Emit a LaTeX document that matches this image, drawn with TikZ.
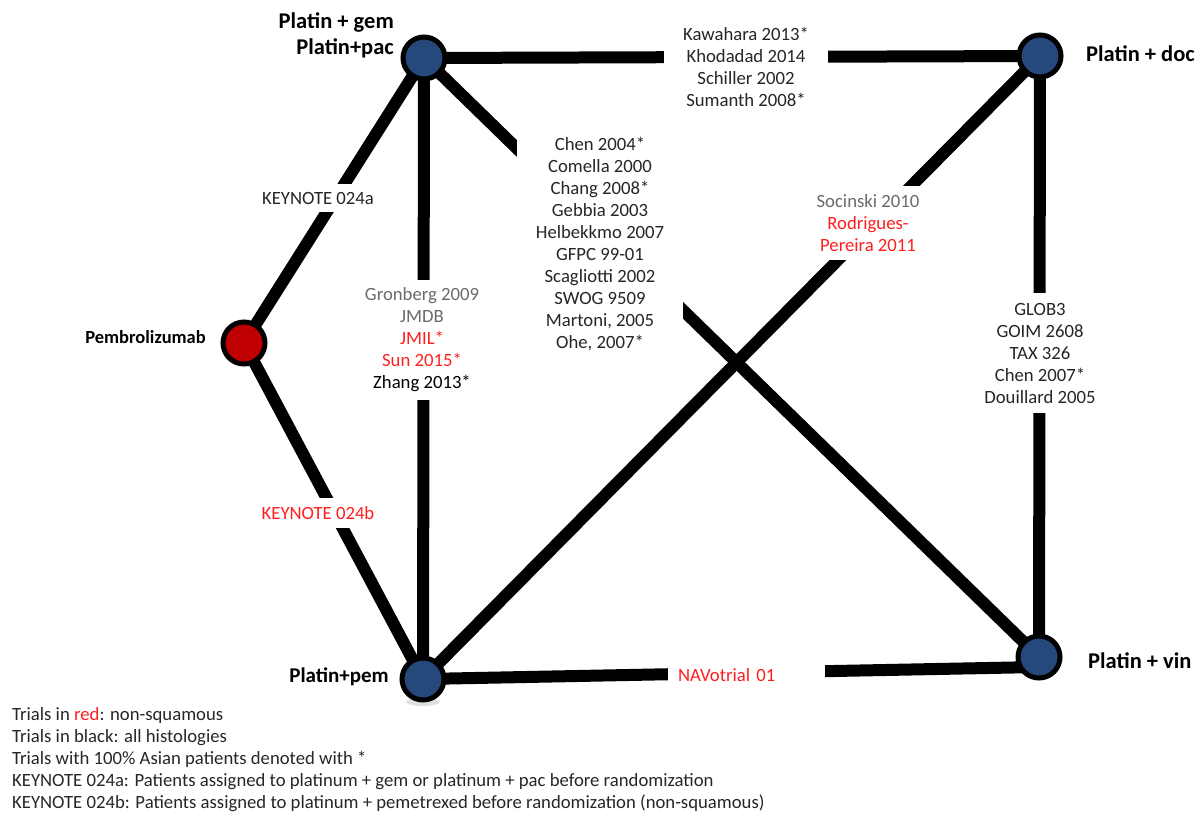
\documentclass[tikz,border=0pt]{standalone}
\usepackage{fontspec}
\setmainfont{Carlito}
\usetikzlibrary{backgrounds}
\definecolor{nodeblue}{HTML}{24497A}
\definecolor{nodered}{HTML}{C00000}
\definecolor{txt}{HTML}{262626}
\definecolor{grtxt}{HTML}{6B6B6B}
\definecolor{rdtxt}{HTML}{FF1F1F}
\tikzset{
  treat/.style={circle, draw=black, line width=5pt, minimum size=42pt, inner sep=0pt},
  bluenode/.style={treat, fill=nodeblue},
  rednode/.style={treat, fill=nodered},
  tname/.style={font=\fontsize{22.5}{26}\selectfont\bfseries, text=black, inner sep=0pt},
  trial/.style={font=\fontsize{18.7}{22}\selectfont, text=txt, align=center, fill=white, inner xsep=19pt, inner ysep=8pt},
  link/.style={line width=12pt, black},
}
\begin{document}
\begin{tikzpicture}[x=1pt, y=-1pt]
\useasboundingbox (0,0) rectangle (1201,817);

% treatments
\node[rednode]  (pem)  at (244,343) {};
\node[bluenode] (gem)  at (424,58)  {};
\node[bluenode] (doc)  at (1040,56) {};
\node[bluenode] (ppem) at (423,679) {};
\node[bluenode] (vin)  at (1039,657) {};

% comparisons
\begin{pgfonlayer}{background}
  \fill[black!35, opacity=0.35] (423,702) ellipse (17pt and 4pt);
  \draw[link] (pem.center) -- (gem.center);
  \draw[link] (pem.center) -- (ppem.center);
  \draw[link] (gem.center) -- (ppem.center);
  \draw[link] (gem.center) -- (doc.center);
  \draw[link] (gem.center) -- (vin.center);
  \draw[link] (ppem.center) -- (doc.center);
  \draw[link] (ppem.center) -- ([yshift=-10pt]vin.center);
  \draw[link] (doc.center) -- (vin.center);
\end{pgfonlayer}

% treatment names
\node[tname, align=right, anchor=east] (lgem) at (394,35) {Platin + gem\\Platin+pac};
\node[tname, anchor=east, font=\fontsize{18.5}{20}\selectfont\bfseries] (lpem) at (206,337) {Pembrolizumab};
\node[tname, anchor=west] (ldoc)  at (1086,54) {Platin + doc};
\node[tname, anchor=east, font=\fontsize{21}{24}\selectfont\bfseries] (lppem) at (389,677) {Platin+pem};
\node[tname, anchor=west] (lvin)  at (1088,661) {Platin + vin};

% trials on each comparison
\node[trial] (k24a) at (318,198) {KEYNOTE 024a};
\node[trial, text=rdtxt] (k24b) at (318,513) {KEYNOTE 024b};
\node[trial, inner xsep=12pt] (tgp) at (422,340) {\textcolor{grtxt}{Gronberg 2009}\\\textcolor{grtxt}{JMDB}\\\textcolor{rdtxt}{JMIL*}\\\textcolor{rdtxt}{Sun 2015*}\\\textcolor{black}{Zhang 2013*}};
\node[trial] (tgd) at (746,67) {Kawahara 2013*\\Khodadad 2014\\Schiller 2002\\Sumanth 2008*};
\node[trial] (tgv) at (600,244) {Chen 2004*\\Comella 2000\\Chang 2008*\\Gebbia 2003\\Helbekkmo 2007\\GFPC 99-01\\Scagliotti 2002\\SWOG 9509\\Martoni, 2005\\Ohe, 2007*};
\node[trial, inner xsep=10pt] (tpd) at (868,223) {\textcolor{grtxt}{Socinski 2010}\\\textcolor{rdtxt}{Rodrigues-}\\\textcolor{rdtxt}{Pereira 2011}};
\node[trial, inner ysep=10pt] (tdv) at (1040,353) {GLOB3\\GOIM 2608\\TAX 326\\Chen 2007*\\Douillard 2005};
\node[trial, text=rdtxt, text width=137pt, align=left, inner xsep=10pt] (tpv) at (746.5,675) {NAVotrial 01};

% legend
\node[font=\fontsize{18.7}{22}\selectfont, text=txt, align=left, anchor=north west, inner sep=0pt] (legend) at (12,707)
  {Trials in \textcolor{rdtxt}{red}: non-squamous\\
   Trials in black: all histologies\\
   Trials with 100\% Asian patients denoted with *\\
   KEYNOTE 024a: Patients assigned to platinum + gem or platinum + pac before randomization\\
   KEYNOTE 024b: Patients assigned to platinum + pemetrexed before randomization (non-squamous)};
\end{tikzpicture}
\end{document}
